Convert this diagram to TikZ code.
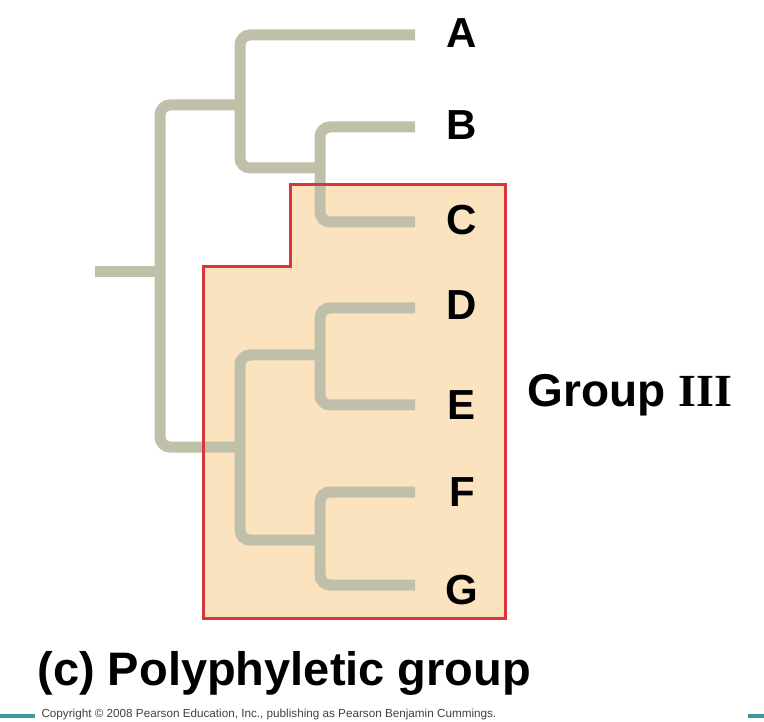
\documentclass[tikz,border=0pt]{standalone}
\usepackage{fontspec}
\setmainfont{Liberation Sans}
\newfontfamily\serifb{Liberation Serif}
\definecolor{branch}{HTML}{C0BFA9}
\definecolor{boxfill}{HTML}{FBE3BF}
\definecolor{boxred}{HTML}{D8363A}
\definecolor{teal}{HTML}{3A9A9A}
\begin{document}
\begin{tikzpicture}[x=1pt,y=-1pt,
  br/.style={draw=branch,line width=11pt,rounded corners=10pt},
  tip/.style={font=\fontsize{42}{42}\selectfont\bfseries,anchor=center}]
\useasboundingbox (0,0) rectangle (764,722);
\fill[boxfill] (290,185)--(505,185)--(505,618)--(203,618)--(203,267)--(290,267)--cycle;
% root and main
\draw[br] (95,272)--(160,272);
\draw[br] (240,105)--(160,105)--(160,447)--(240,447);
% upper clade
\draw[br] (415,35)--(240,35)--(240,168)--(320,168);
\draw[br] (415,127)--(320,127)--(320,222)--(415,222);
% lower clade
\draw[br] (320,355)--(240,355)--(240,540)--(320,540);
\draw[br] (415,308)--(320,308)--(320,405)--(415,405);
\draw[br] (415,492)--(320,492)--(320,585)--(415,585);
\draw[boxred,line width=3pt] (290,185)--(505,185)--(505,618)--(203,618)--(203,267)--(290,267)--cycle;
\node[tip] (A) at (462,33) {A};
\node[tip] (B) at (462,125) {B};
\node[tip] (C) at (462,220) {C};
\node[tip] (D) at (462,305) {D};
\node[tip] (E) at (462,405) {E};
\node[tip] (F) at (462,492) {F};
\node[tip] (G) at (462,590) {G};
\node[anchor=west,font=\fontsize{46}{46}\selectfont\bfseries] (grp) at (524,395) {Group {\serifb III}};
\node[anchor=west,font=\fontsize{47}{47}\selectfont\bfseries] (cap) at (34,673) {(c) Polyphyletic group};
\node[anchor=west,font=\fontsize{11.7}{12}\selectfont,text=black!75] (copy) at (38,714) {Copyright © 2008 Pearson Education, Inc., publishing as Pearson Benjamin Cummings.};
\fill[teal] (0,714) rectangle (35,718);
\fill[teal] (748,714) rectangle (764,718);
\end{tikzpicture}
\end{document}
